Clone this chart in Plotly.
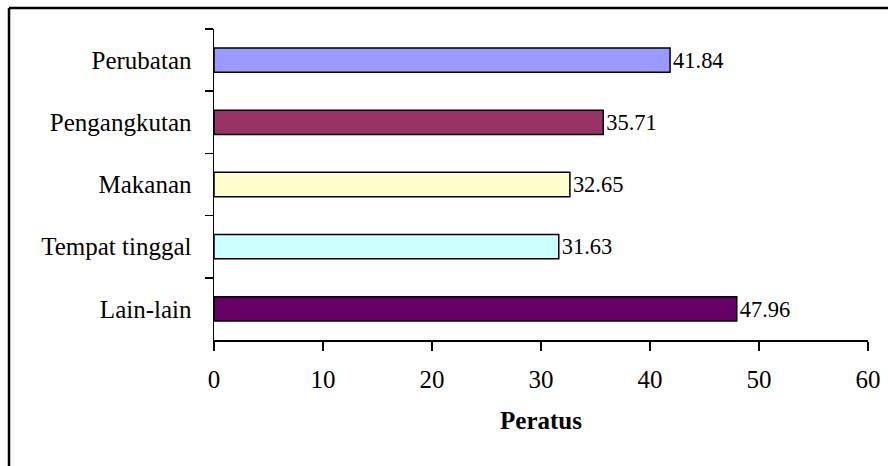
import plotly.graph_objects as go

categories = ["Perubatan", "Pengangkutan", "Makanan", "Tempat tinggal", "Lain-lain"]
values = [41.84, 35.71, 32.65, 31.63, 47.96]
bar_colors = ["#9999FF", "#993366", "#FFFFCC", "#CCFFFF", "#660066"]
x_ticks = [0, 10, 20, 30, 40, 50, 60]

FONT = "Liberation Serif, Times New Roman, serif"
FS = 25

fig = go.Figure(go.Bar(
    y=categories,
    x=values,
    orientation="h",
    marker=dict(color=bar_colors, line=dict(color="black", width=1.5)),
    text=[f"{v:.2f}" for v in values],
    textposition="outside",
    textfont=dict(family=FONT, size=FS, color="black"),
    cliponaxis=False,
    hoverinfo="skip",
))

W, H = 888, 466
L, R, T, B = 214, 20, 29, 126
pw, ph = W - L - R, H - T - B

def px_x(p):
    return (p - L) / pw

def px_y(p):
    return 1 - (p - T) / ph

fig.update_layout(
    width=W, height=H,
    margin=dict(l=L, r=R, t=T, b=B, autoexpand=False),
    paper_bgcolor="white",
    plot_bgcolor="white",
    bargap=0.61,
    showlegend=False,
    font=dict(family=FONT, size=FS, color="black"),
    xaxis=dict(
        range=[0, 60],
        tickvals=x_ticks,
        showgrid=False,
        zeroline=False,
        showline=True, linecolor="black", linewidth=1.5,
        ticks="outside", ticklen=9, tickwidth=1.5, tickcolor="black",
        tickfont=dict(family=FONT, size=FS),
        ticklabelstandoff=7,
        title=dict(text="<b>Peratus</b>", font=dict(family=FONT, size=FS), standoff=20),
    ),
    yaxis=dict(
        autorange="reversed",
        showgrid=False,
        showline=True, linecolor="black", linewidth=1.5,
        ticks="outside", ticklen=8, tickwidth=1.5, tickcolor="black",
        tickson="boundaries",
        tickfont=dict(family=FONT, size=FS),
        ticklabelstandoff=16,
    ),
    shapes=[
        dict(type="line", xref="paper", yref="paper",
             x0=px_x(9), x1=px_x(900), y0=px_y(8), y1=px_y(8),
             line=dict(color="black", width=2.5)),
        dict(type="line", xref="paper", yref="paper",
             x0=px_x(9), x1=px_x(9), y0=px_y(8), y1=px_y(480),
             line=dict(color="black", width=2.5)),
    ],
)

fig.write_html(
    "out.html",
    config={"displayModeBar": False, "staticPlot": True},
    post_script="document.body.style.margin='0';document.body.style.overflow='hidden';",
)
